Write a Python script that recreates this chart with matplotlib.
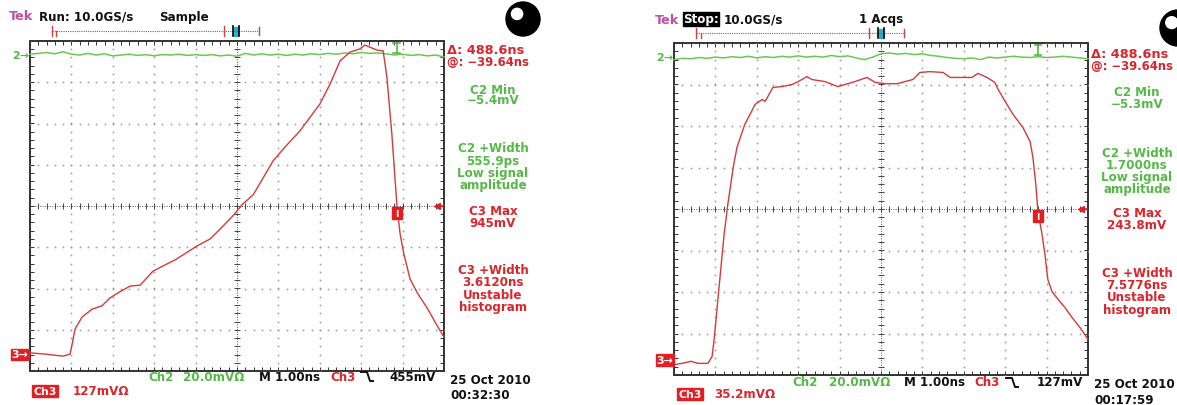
import numpy as np
import matplotlib
matplotlib.use('Agg')
import matplotlib.pyplot as plt
from matplotlib.patches import Rectangle, Circle

W, H = 1177, 406
fig = plt.figure(figsize=(W / 100, H / 100), dpi=100)
plt.rcParams['font.family'] = ['DejaVu Sans']

# ---------------- data (in screen divisions: time -5..5, volts -4..4) ----------------
left_ch3_t = [-5.0, -4.64, -4.20, -4.03, -3.91, -3.74, -3.50, -3.26, -3.07, -2.83, -2.58, -2.34,
              -2.03, -1.74, -1.45, -0.97, -0.65, -0.41, -0.10, 0.14, 0.39, 0.87, 1.16, 1.52,
              2.00, 2.25, 2.49, 2.73, 2.97, 3.09, 3.21, 3.38, 3.53, 3.62, 3.74, 3.86, 3.94,
              4.03, 4.18, 4.37, 4.61, 4.81, 5.0]
left_ch3_v = [-3.56, -3.59, -3.64, -3.59, -2.98, -2.69, -2.50, -2.42, -2.23, -2.08, -1.94, -1.92,
              -1.58, -1.43, -1.28, -0.97, -0.80, -0.56, -0.24, 0.05, 0.27, 1.09, 1.43, 1.82,
              2.47, 2.96, 3.52, 3.73, 3.81, 3.90, 3.85, 3.78, 3.76, 3.13, 1.75, 0.05, -0.68,
              -1.16, -1.77, -2.13, -2.50, -2.86, -3.18]

right_ch3_t = [-5.0, -4.81, -4.59, -4.42, -4.18, -4.08, -4.03, -3.94, -3.79, -3.70, -3.57, -3.48,
               -3.29, -3.04, -2.87, -2.80, -2.61, -2.39, -2.15, -2.00, -1.79, -1.67, -1.35, -1.04,
               -0.87, -0.63, -0.34, -0.14, 0.10, 0.39, 0.77, 0.94, 1.18, 1.50, 1.67, 1.91, 2.20,
               2.34, 2.56, 2.75, 2.83, 3.00, 3.19, 3.43, 3.60, 3.67, 3.74, 3.79, 3.89, 3.96, 4.03,
               4.13, 4.28, 4.44, 4.61, 4.81, 5.0]
right_ch3_v = [-3.75, -3.72, -3.67, -3.72, -3.72, -3.55, -3.14, -2.18, -0.61, 0.11, 1.00, 1.48,
               2.04, 2.52, 2.64, 2.59, 2.93, 2.95, 3.00, 3.07, 3.19, 3.12, 3.07, 2.95,
               3.00, 3.07, 3.17, 3.05, 3.02, 3.02, 3.12, 3.29, 3.31, 3.29, 3.17, 3.17, 3.17,
               3.27, 3.17, 3.05, 2.88, 2.59, 2.28, 1.96, 1.63, 1.24, 0.59, -0.06, -0.61, -1.10, -1.70,
               -1.99, -2.18, -2.37, -2.61, -2.86, -3.14]

green_t = list(np.round(np.arange(-5, 5.001, 0.2), 2))
left_ch2_v = [3.68, 3.70, 3.72, 3.69, 3.74, 3.68, 3.66, 3.70, 3.66, 3.69, 3.64, 3.66, 3.68, 3.65,
              3.67, 3.64, 3.67, 3.66, 3.68, 3.65, 3.67, 3.65, 3.67, 3.64, 3.66, 3.63, 3.70, 3.66,
              3.69, 3.66, 3.68, 3.65, 3.68, 3.66, 3.69, 3.67, 3.70, 3.68, 3.71, 3.69, 3.72, 3.70,
              3.71, 3.69, 3.66, 3.68, 3.65, 3.67, 3.64, 3.66, 3.61]
right_ch2_v = [3.60, 3.63, 3.62, 3.65, 3.63, 3.66, 3.64, 3.67, 3.65, 3.68, 3.64, 3.67, 3.65, 3.68,
               3.66, 3.69, 3.66, 3.68, 3.66, 3.70, 3.67, 3.69, 3.64, 3.60, 3.66, 3.74, 3.76, 3.73,
               3.75, 3.72, 3.74, 3.70, 3.68, 3.65, 3.63, 3.62, 3.64, 3.60, 3.66, 3.64, 3.66, 3.68,
               3.66, 3.65, 3.67, 3.65, 3.66, 3.68, 3.66, 3.64, 3.62]

left_cursor_t, right_cursor_t = 3.86, 3.79

left_meas = ["C2 Min", "\u22125.4mV", "C2 +Width", "555.9ps", "Low signal", "amplitude",
             "C3 Max", "945mV", "C3 +Width", "3.6120ns", "Unstable", "histogram"]
right_meas = ["C2 Min", "\u22125.3mV", "C2 +Width", "1.7000ns", "Low signal", "amplitude",
              "C3 Max", "243.8mV", "C3 +Width", "7.5776ns", "Unstable", "histogram"]
meas_colors = ["g", "g", "g", "g", "g", "g", "r", "r", "r", "r", "r", "r"]

RED = '#d9262c'
TRACE_RED = '#d43a3a'
GREEN = '#55b947'
TRACE_GREEN = '#6cc654'
MAG = '#c0509e'
BLK = '#111111'
FS = 8.6


def px_axes(x0, y0, x1, y1):
    return fig.add_axes([x0 / W, 1 - y1 / H, (x1 - x0) / W, (y1 - y0) / H])


def draw_screen(ax, ch3_t, ch3_v, ch2_v, cursor_t):
    ax.set_xlim(-5, 5)
    ax.set_ylim(-4, 4)
    ax.axis('off')
    ax.patch.set_alpha(0)
    gc = '#959595'
    xs = np.arange(-5, 5.001, 0.2)
    ys = np.arange(-4, 4.001, 0.2)
    for gx in [-4, -3, -2, -1, 1, 2, 3, 4]:
        ax.plot(np.full_like(ys, gx), ys, ls='none', marker='s', ms=1.1, mew=0, color=gc)
    for gy in [-3, -2, -1, 1, 2, 3]:
        ax.plot(xs, np.full_like(xs, gy), ls='none', marker='s', ms=1.1, mew=0, color=gc)
    # center cross with ticks
    ax.plot([-5, 5], [0, 0], color='#555555', lw=0.7, ls=(0, (1, 1.5)))
    ax.plot([0, 0], [-4, 4], color='#555555', lw=0.7, ls=(0, (1, 1.5)))
    ax.plot(xs, np.zeros_like(xs), ls='none', marker='|', ms=4, mew=0.7, color='#444444')
    ax.plot(np.zeros_like(ys), ys, ls='none', marker='_', ms=4, mew=0.7, color='#444444')
    # border ticks
    ax.plot(xs, np.full_like(xs, 4), ls='none', marker=3, ms=3, mew=0.7, color='#333333', clip_on=False)
    ax.plot(xs, np.full_like(xs, -4), ls='none', marker=2, ms=3, mew=0.7, color='#333333', clip_on=False)
    ax.plot(np.full_like(ys, -5), ys, ls='none', marker=1, ms=3, mew=0.7, color='#333333', clip_on=False)
    ax.plot(np.full_like(ys, 5), ys, ls='none', marker=0, ms=3, mew=0.7, color='#333333', clip_on=False)
    ax.add_patch(Rectangle((-5, -4), 10, 8, fill=False, lw=1.3, ec='#222222', clip_on=False))
    # traces
    ax.plot(green_t, ch2_v, color=TRACE_GREEN, lw=1.1, clip_on=False, zorder=5)
    ax.plot(ch3_t, ch3_v, color=TRACE_RED, lw=1.0, clip_on=False, zorder=6)
    # green cursor I
    ax.plot([cursor_t, cursor_t], [3.72, 3.96], color=GREEN, lw=1.2, zorder=7)
    ax.plot([cursor_t - 0.08, cursor_t + 0.08], [3.96, 3.96], color=GREEN, lw=1.2, zorder=7)
    ax.plot([cursor_t - 0.08, cursor_t + 0.08], [3.72, 3.72], color=GREEN, lw=1.2, zorder=7)
    # red trigger box
    ax.add_patch(Rectangle((cursor_t - 0.12, -0.32), 0.24, 0.29, color='#e02020', zorder=8))
    ax.text(cursor_t, -0.175, "I", color='white', fontsize=6.5, fontweight='bold',
            ha='center', va='center', zorder=9)
    # trigger level arrow at right edge
    ax.plot([4.82], [0], marker='<', ms=5, color='#e02020', clip_on=False, zorder=8)
    ax.plot([4.82, 4.97], [0, 0], color='#e02020', lw=1.2, clip_on=False, zorder=8)


axL = px_axes(30, 42, 444, 372)
draw_screen(axL, left_ch3_t, left_ch3_v, left_ch2_v, left_cursor_t)
axR = px_axes(674, 44, 1088, 376)
draw_screen(axR, right_ch3_t, right_ch3_v, right_ch2_v, right_cursor_t)

# ---------------- overlay (pixel coordinates) ----------------
ov = fig.add_axes([0, 0, 1, 1])
ov.set_xlim(0, W)
ov.set_ylim(H, 0)
ov.axis('off')
ov.patch.set_alpha(0)


def t(x, y, s, c=BLK, ha='left', fs=FS, **kw):
    ov.text(x, y, s, color=c, ha=ha, va='center', fontsize=fs, fontweight='bold', **kw)


def ruler(x0, x1, xa, xb, xm, y):
    ov.plot([x0, x1], [y, y], color='#d04040', lw=0.8, ls=(0, (1, 1)))
    ov.plot([x0, x0], [y - 5, y + 5], color='#d04040', lw=1.0)
    ov.plot([xa, xa], [y, y + 5], color='#d04040', lw=1.0)
    ov.plot([xb, xb], [y - 5, y + 5], color='#d04040', lw=1.0)
    ov.plot([x1, x1], [y - 4, y + 4], color='#d04040', lw=1.0)
    ov.add_patch(Rectangle((xm - 2, y - 4), 4, 9, color='#30b0c8'))
    ov.plot([xm - 3, xm - 3], [y - 5, y + 5], color='black', lw=1.2)
    ov.plot([xm + 3, xm + 3], [y - 5, y + 5], color='black', lw=1.2)


def ball(cx, cy, r):
    ov.add_patch(Circle((cx, cy), r, color='black'))
    ov.add_patch(Circle((cx - r * 0.35, cy - r * 0.3), r * 0.33, color='white'))


def redbox(x0, x1, y0, y1, s):
    ov.add_patch(Rectangle((x0, y0), x1 - x0, y1 - y0, color='#e01f26'))
    ov.text((x0 + x1) / 2, (y0 + y1) / 2, s, color='white', ha='center', va='center',
            fontsize=7.8, fontweight='bold')


def fall(x0, y0):
    ov.plot([x0, x0 + 6, x0 + 9, x0 + 12], [y0, y0, y0 + 9, y0 + 9], color=BLK, lw=1.4)


# ----- left panel -----
t(9, 17, "Tek", MAG, fs=9.2)
t(39, 17, "Run: 10.0GS/s")
t(159, 17, "Sample")
ruler(52, 259, 56, 224, 236, 32)
ball(523, 20, 17)
t(447, 51, "\u0394: 488.6ns", RED, fs=9.3)
t(447, 63, "@: \u221239.64ns", RED, fs=8.4)
for s, c, y in zip(left_meas, meas_colors, [90, 101, 149, 162, 174, 186, 212, 224, 271, 283, 296, 308]):
    t(493, y, s, GREEN if c == 'g' else RED, ha='center')
t(450, 381, "25 Oct 2010")
t(450, 396, "00:32:30")
t(148, 378, "Ch2", GREEN)
t(183, 378, "20.0mV\u03a9", GREEN)
t(259, 378, "M 1.00ns")
t(330, 378, "Ch3", RED)
fall(361, 373)
t(436, 378, "455mV", ha='right')
redbox(32, 58, 386, 398, "Ch3")
t(73, 392, "127mV\u03a9", RED)
t(29, 56, "2\u2192", GREEN, ha='right', fs=8)
redbox(11, 29, 350, 361, "3\u2192")

# ----- right panel -----
t(655, 20, "Tek", MAG, fs=9.2)
ov.add_patch(Rectangle((683, 13), 36, 14, color='black'))
t(701, 20, "Stop:", 'white', ha='center')
t(724, 20, "10.0GS/s")
t(859, 20, "1 Acqs")
ruler(696, 904, 701, 869, 881, 34)
ball(1178, 29, 18)
t(1091, 54, "\u0394: 488.6ns", RED, fs=9.3)
t(1091, 66, "@: \u221239.64ns", RED, fs=8.4)
for s, c, y in zip(right_meas, meas_colors, [93, 104, 154, 166, 178, 190, 214, 226, 274, 286, 298, 311]):
    t(1137, y, s, GREEN if c == 'g' else RED, ha='center')
t(1094, 385, "25 Oct 2010")
t(1094, 401, "00:17:59")
t(792, 383, "Ch2", GREEN)
t(829, 383, "20.0mV\u03a9", GREEN)
t(904, 383, "M 1.00ns")
t(974, 383, "Ch3", RED)
fall(1006, 379)
t(1083, 383, "127mV", ha='right')
redbox(677, 703, 389, 401, "Ch3")
t(714, 395, "35.2mV\u03a9", RED)
t(673, 58, "2\u2192", GREEN, ha='right', fs=8)
redbox(656, 674, 355, 367, "3\u2192")

fig.savefig("out.png", dpi=100)
